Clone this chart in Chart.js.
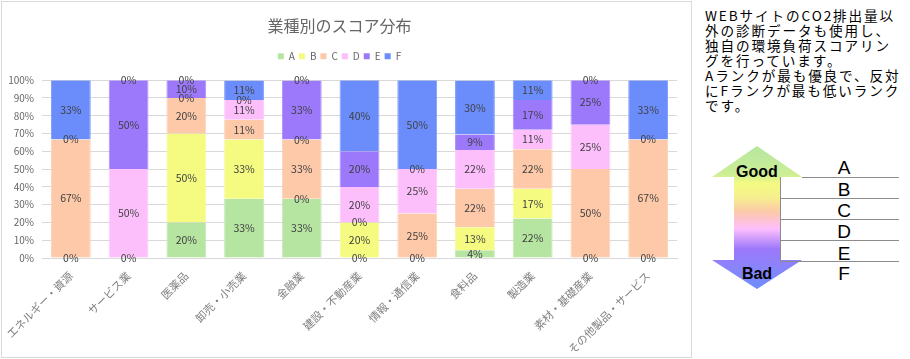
<!DOCTYPE html>
<html lang="ja">
<head>
<meta charset="utf-8">
<script src="https://cdn.jsdelivr.net/npm/chart.js@4.4.1/dist/chart.umd.min.js"></script>
<style>
  html, body { margin: 0; padding: 0; background: #fff; }
  body { width: 910px; height: 359px; position: relative; overflow: hidden; }
  #chart-box {
    position: absolute; left: 1px; top: 1px;
    width: 689px; height: 355px;
    border: 1px solid #d9d9d9;
  }
  #nota {
    position: absolute; left: 705px; top: 8px; width: 205px;
    font-family: "Noto Sans CJK JP", sans-serif;
    font-size: 13.6px; line-height: 15px; color: #000;
    letter-spacing: 1.9px;
    white-space: nowrap;
  }
  #flecha { position: absolute; left: 700px; top: 140px; }
</style>
</head>
<body>

<div id="chart-box"><canvas id="chart-score"></canvas></div>

<div id="nota">
  WEBサイトのCO2排出量以<br>外の診断データも使用し、<br>独自の環境負荷スコアリン<br>グを行っています。<br>Aランクが最も優良で、反対<br>にFランクが最も低いランク<br>です。
</div>

<svg id="flecha" width="210" height="160" viewBox="0 0 210 160">
  <defs>
    <linearGradient id="grad-rank" x1="0" y1="6" x2="0" y2="149" gradientUnits="userSpaceOnUse">
      <stop offset="0"    stop-color="#b5e6a0"/>
      <stop offset="0.2"  stop-color="#cdee95"/>
      <stop offset="0.26" stop-color="#f4fa82"/>
      <stop offset="0.36" stop-color="#f6ef8e"/>
      <stop offset="0.46" stop-color="#fdc9a9"/>
      <stop offset="0.58" stop-color="#fdbefd"/>
      <stop offset="0.72" stop-color="#9c78fa"/>
      <stop offset="0.85" stop-color="#8a84fb"/>
      <stop offset="1"    stop-color="#6c8cfc"/>
    </linearGradient>
  </defs>
  <polygon points="57,6 102,37 80,37 80,120 102,120 57,149 12,120 34,120 34,37 12,37" fill="url(#grad-rank)"/>
  <g stroke="#8c8c8c" stroke-width="1">
    <line x1="102" y1="37.5" x2="199" y2="37.5"/>
    <line x1="80"  y1="58.5" x2="199" y2="58.5"/>
    <line x1="80"  y1="79.5" x2="199" y2="79.5"/>
    <line x1="80"  y1="100.5" x2="199" y2="100.5"/>
    <line x1="80"  y1="121.5" x2="199" y2="121.5"/>
    <line x1="80.5" y1="37" x2="80.5" y2="121"/>
  </g>
  <g font-family="'Liberation Sans', Arial, sans-serif" fill="#000" text-anchor="middle">
    <text x="57" y="37" font-size="16" font-weight="bold">Good</text>
    <text x="57" y="139" font-size="16" font-weight="bold">Bad</text>
    <text x="144" y="34" font-size="19">A</text>
    <text x="144" y="56" font-size="19">B</text>
    <text x="144" y="77" font-size="19">C</text>
    <text x="144" y="98" font-size="19">D</text>
    <text x="144" y="120" font-size="19">E</text>
    <text x="144" y="140" font-size="19">F</text>
  </g>
</svg>

<script>
// ── DATOS ─────────────────────────────────────────────────────────────────────
var categorias = ['エネルギー・資源', 'サービス業', '医薬品', '卸売・小売業', '金融業',
  '建設・不動産業', '情報・通信業', '食料品', '製造業', '素材・基礎産業', 'その他製品・サービス'];

var rangos = ['A', 'B', 'C', 'D', 'E', 'F'];

var rangoA = [0,    0,    20, 33.3, 33.3, 0,    0,    4.3,  22.2, 0,    0];
var rangoB = [null, null, 50, 33.3, 0,    20,   null, 13,   16.7, null, null];
var rangoC = [66.7, null, 20, 11.1, 33.3, 0,    25,   21.7, 22.2, 50,   66.7];
var rangoD = [null, 50,   0,  11.1, 0,    20,   25,   21.7, 11.1, 25,   null];
var rangoE = [0,    50,   10, 0,    33.3, 20,   0,    8.7,  16.7, 25,   0];
var rangoF = [33.3, 0,    0,  11.1, 0,    40,   50,   30.4, 11.1, 0,    33.3];

var ticksY = [0, 10, 20, 30, 40, 50, 60, 70, 80, 90, 100];

var colores = ['#b6e5a1', '#f4fb80', '#fdc9a9', '#fdbffc', '#9c78fb', '#6b8cfb'];
var bordes  = ['#c4eab3', '#f6fb9a', '#fdd3b9', '#fdcafc', '#ad8ffc', '#829dfc'];

var FUENTE = '"Noto Sans CJK JP", "Noto Sans", sans-serif';

// ── ETIQUETAS DE DATOS (plugin simple) ───────────────────────────────────────
var etiquetasPlugin = {
  id: 'etiquetas',
  afterDatasetsDraw: function(chart) {
    var ctx = chart.ctx;
    ctx.save();
    ctx.font = '10.5px ' + FUENTE;
    ctx.fillStyle = '#404040';
    ctx.textAlign = 'center';
    ctx.textBaseline = 'middle';
    chart.data.datasets.forEach(function(ds, i) {
      var meta = chart.getDatasetMeta(i);
      meta.data.forEach(function(bar, j) {
        var v = ds.data[j];
        if (v === null || v === undefined) return;
        ctx.fillText(Math.round(v) + '%', bar.x, (bar.y + bar.base) / 2);
      });
    });
    ctx.restore();
  }
};

// espacio extra bajo la leyenda
var espacioLeyenda = {
  id: 'espacioLeyenda',
  beforeLayout: function(chart) {
    var lg = chart.legend;
    if (!lg || lg._extra) return;
    var fitOrig = lg.fit;
    lg.fit = function() { fitOrig.call(this); this.height += 9; };
    lg._extra = true;
  }
};

// ── CHART ─────────────────────────────────────────────────────────────────────
var series = [rangoA, rangoB, rangoC, rangoD, rangoE, rangoF];

var ctx = document.getElementById('chart-score').getContext('2d');
var chartScore = new Chart(ctx, {
  type: 'bar',
  data: {
    labels: categorias,
    datasets: series.map(function(d, i) {
      return {
        label: rangos[i],
        data: d,
        backgroundColor: colores[i],
        borderColor: bordes[i],
        borderWidth: { left: 1, right: 1, top: 0, bottom: 0 },
        barPercentage: 0.69,
        categoryPercentage: 1
      };
    })
  },
  options: {
    responsive: true,
    maintainAspectRatio: false,
    animation: false,
    layout: { padding: { top: 0, right: 14, left: 0, bottom: 0 } },
    plugins: {
      title: {
        display: true,
        text: '業種別のスコア分布',
        color: '#666666',
        font: { family: FUENTE, size: 16, weight: 'normal' },
        padding: { top: 14, bottom: 12 }
      },
      legend: {
        position: 'top',
        labels: {
          boxWidth: 6, boxHeight: 6, padding: 4,
          color: '#666666',
          font: { family: FUENTE, size: 10 },
          generateLabels: function(chart) {
            return chart.data.datasets.map(function(ds, i) {
              return { text: ds.label, fillStyle: colores[i], strokeStyle: colores[i],
                       lineWidth: 0, fontColor: '#666666', datasetIndex: i };
            });
          }
        }
      },
      tooltip: { enabled: false }
    },
    scales: {
      x: {
        stacked: true,
        grid: { display: false },
        border: { color: '#d9d9d9' },
        ticks: {
          color: '#7f7f7f', minRotation: 45, maxRotation: 45,
          font: { family: FUENTE, size: 11 }
        },
        afterFit: function(s) { s.height = 99; }
      },
      y: {
        stacked: true, min: 0, max: 100,
        grid: { color: '#d9d9d9', drawTicks: false },
        border: { display: false },
        afterBuildTicks: function(s) { s.ticks = ticksY.map(function(v) { return { value: v }; }); },
        ticks: {
          color: '#666666', padding: 8,
          font: { family: FUENTE, size: 10 },
          callback: function(v) { return v + '%'; }
        },
        afterFit: function(s) { s.width = 40; }
      }
    }
  },
  plugins: [etiquetasPlugin, espacioLeyenda]
});
</script>
</body>
</html>
